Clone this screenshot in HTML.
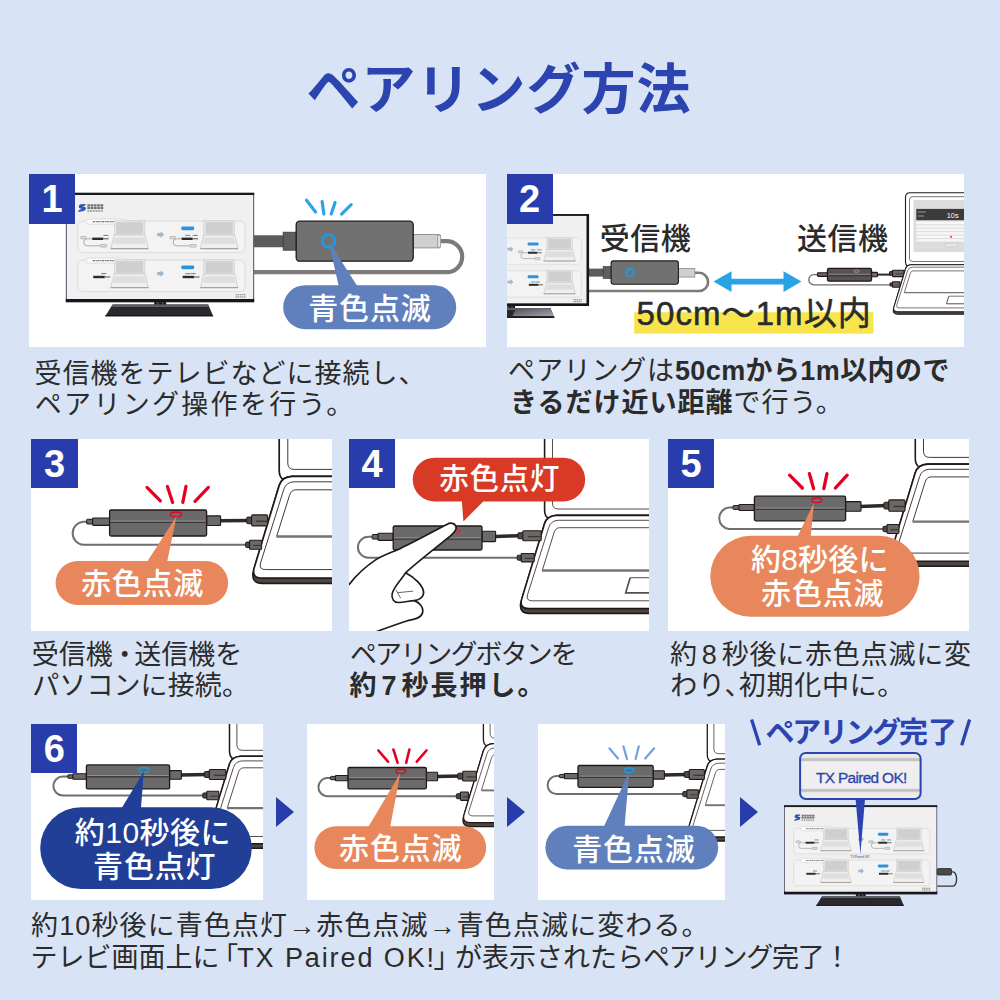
<!DOCTYPE html>
<html lang="ja">
<head>
<meta charset="utf-8">
<title>ペアリング方法</title>
<style>
html,body{margin:0;padding:0}
body{width:1000px;height:1000px;position:relative;overflow:hidden;background:#d8e3f5;font-family:"Liberation Sans","Noto Sans CJK JP",sans-serif;color:#333}
svg{display:block}
svg text{font-family:"Liberation Sans","Noto Sans CJK JP",sans-serif}
.panel{position:absolute;background:#fff;overflow:hidden}
.panel>svg{position:absolute;left:0;top:0}
.badge{position:absolute;left:0;top:0;width:46.3px;height:49.8px;background:#283cab;color:#fff;font-weight:bold;font-size:38px;line-height:50px;text-align:center}
.cap{position:absolute;margin:0;padding:0;font-size:27px;font-weight:normal}
.cap>svg{position:absolute;left:0;top:0}
.sr{position:absolute;width:1px;height:1px;margin:-1px;overflow:hidden;clip:rect(0 0 0 0);white-space:nowrap;border:0;padding:0}
.arr{position:absolute;width:0;height:0;border-top:15px solid transparent;border-bottom:15px solid transparent;border-left:18px solid #283cab}
.fin{position:absolute}
.fin>svg{position:absolute;left:0;top:0}
.ok{position:absolute;left:86px;top:69.2px;font-size:15.4px;line-height:18px;color:#2b44b0;letter-spacing:-.66px;white-space:nowrap;-webkit-text-stroke:.3px #2b44b0}
.ok2{position:absolute;left:119px;top:155px;width:22px;text-align:center;font-size:3px;line-height:4px;color:#2b44b0;white-space:nowrap}
</style>
</head>
<body>
<h1 class="cap" style="left:290px;top:50px;width:420px;height:80px"><span class="sr">ペアリング方法</span><svg width="420" height="80" viewBox="290 50 420 80" aria-hidden="true"><text x="306.5" y="109" font-size="54" font-weight="bold" letter-spacing="1" fill="#2b44b0">ペアリング方法</text></svg></h1>
<div class="panel" style="left:28.8px;top:173.8px;width:457.7px;height:172.8px"><svg width="457.7" height="172.8" viewBox="28.8 173.8 457.7 172.8" role="img" aria-label="受信機をテレビに接続、青色点滅"><path d="M252 241H284" stroke="#5c5c5c" stroke-width="12"/><path d="M440 241H446.5A15.5 15.5 0 0 1 446.5 272H252" fill="none" stroke="#7b7b7b" stroke-width="4.2"/><g transform="translate(65.6 192.6) scale(1)"><path d="M88.4 108h12v9.5h-12z" fill="#1b1b1e"/><path d="M91 109.5h2v7h-2zM96 109.5h1.5v7h-1.5z" fill="#55555c"/><path d="M46.8 111.8h95.6l5 11.6h-108z" fill="#29292d"/><path d="M46.8 111.8h95.6l1 2.3h-97.6z" fill="#5d5d64"/><path d="M39.4 123h108" stroke="#0a0a0a" stroke-width="1"/><rect x="0" y="0" width="188.4" height="109.4" fill="#5d5b6e"/><rect x="0" y="0" width="188.4" height="2.4" fill="#1a1a20"/><rect x="0" y="106" width="188.4" height="3.4" fill="#15151a"/><rect x="1.1" y="2.2" width="186.2" height="104" fill="#f0f0f0"/><path d="M13.2 13.1q0-1.6 2-1.7l4.8-.2q-.2 1.9-2 2.1l-1.8.2q2.6.5 3.6 1.2q.6.5.2 1.6q-.5 1.6-2.4 1.9l-5.2 1q.2-2 1.9-2.4l2.3-.5q-2.6-.6-3.3-1.3q-.5-.6-.1-1.9z" fill="#2a56b4"/><path d="M21.6 11.5h15.8v4.8h-15.8z" fill="#6d6d6d"/><path d="M24.6 11.5v4.8M27.8 11.5v4.8M31 11.5v4.8M34.4 11.5v4.8" stroke="#eee" stroke-width=".7"/><path d="M21.6 13.8h15.8" stroke="#eee" stroke-width=".5"/><path d="M21.6 18.2h15.8" stroke="#8a8a8a" stroke-width="1.3" stroke-dasharray="1.8 .9"/><rect x="12" y="28.4" width="167.4" height="31.4" rx="5" fill="#f3f3f3" stroke="#d2d2d2" stroke-width=".7"/><rect x="20.4" y="26.2" width="40" height="5.2" rx="2.6" fill="#fbfbfb" stroke="#cfcfcf" stroke-width=".6"/><path d="M27 28.8h27" stroke="#777" stroke-width="1.2" stroke-dasharray="2.2 .7 1.2 .5"/><rect x="48.4" y="27.8" width="30.8" height="14.6" fill="#e3e3e3" stroke="#c9c3c1" stroke-width=".4"/><rect x="50.4" y="29.4" width="26.8" height="11.6" fill="#cfcfcf"/><path d="M48.4 42.2h30.8l3.4 13.6h-37.6z" fill="#efefef" stroke="#b9aca6" stroke-width=".5" stroke-linejoin="round"/><path d="M49.2 44.6h29.2l1.700 6.4h-32.6z" fill="#dedede"/><path d="M45 55.9h37.6" stroke="#9c8e86" stroke-width=".9"/><rect x="138" y="27.8" width="30.8" height="14.6" fill="#e3e3e3" stroke="#c9c3c1" stroke-width=".4"/><rect x="140" y="29.4" width="26.8" height="11.6" fill="#cfcfcf"/><path d="M138 42.2h30.8l3.4 13.6h-37.6z" fill="#efefef" stroke="#b9aca6" stroke-width=".5" stroke-linejoin="round"/><path d="M138.8 44.6h29.2l1.700 6.4h-32.6z" fill="#dedede"/><path d="M134.6 55.9h37.6" stroke="#9c8e86" stroke-width=".9"/><path d="M91.4 40.2h3.4v-1.8l3.6 3.4l-3.6 3.4v-1.8h-3.4z" fill="#9fb7ce"/><rect x="115.4" y="33.7" width="13" height="3.7" rx="1.4" fill="#2e93d9"/><rect x="26.4" y="44.8" width="11" height="2.4" fill="#2b2b2b"/><path d="M26.4 46h-5a3.5 3.5 0 0 0 0 7h13" fill="none" stroke="#8d8d8d" stroke-width=".7"/><rect x="34.5" y="51.7" width="6.5" height="2.6" rx=".8" fill="#ddd" stroke="#8a8a8a" stroke-width=".5"/><rect x="14.8" y="43.6" width="5.5" height="2.4" rx=".8" fill="#ddd" stroke="#8a8a8a" stroke-width=".5"/><path d="M37.4 46h5.5" stroke="#444" stroke-width=".9"/><path d="M37.5 42.6h5" stroke="#555" stroke-width=".8"/><rect x="115.8" y="44.8" width="11" height="2.4" fill="#2b2b2b"/><path d="M115.8 46h-5a3.5 3.5 0 0 0 0 7h13" fill="none" stroke="#8d8d8d" stroke-width=".7"/><rect x="123.9" y="51.7" width="6.5" height="2.6" rx=".8" fill="#ddd" stroke="#8a8a8a" stroke-width=".5"/><rect x="104.2" y="43.6" width="5.5" height="2.4" rx=".8" fill="#ddd" stroke="#8a8a8a" stroke-width=".5"/><path d="M126.8 46h5.5" stroke="#444" stroke-width=".9"/><path d="M126.9 42.6h5" stroke="#555" stroke-width=".8"/><rect x="119.4" y="42" width="5" height="1.2" fill="#47a2df"/><rect x="12" y="67.4" width="167.4" height="31.4" rx="5" fill="#f3f3f3" stroke="#d2d2d2" stroke-width=".7"/><rect x="20.4" y="65.2" width="40" height="5.2" rx="2.6" fill="#fbfbfb" stroke="#cfcfcf" stroke-width=".6"/><path d="M27 67.8h27" stroke="#777" stroke-width="1.2" stroke-dasharray="2.2 .7 1.2 .5"/><rect x="48.4" y="66.8" width="30.8" height="14.6" fill="#e3e3e3" stroke="#c9c3c1" stroke-width=".4"/><rect x="50.4" y="68.4" width="26.8" height="11.6" fill="#cfcfcf"/><path d="M48.4 81.2h30.8l3.4 13.6h-37.6z" fill="#efefef" stroke="#b9aca6" stroke-width=".5" stroke-linejoin="round"/><path d="M49.2 83.6h29.2l1.700 6.4h-32.6z" fill="#dedede"/><path d="M45 94.9h37.6" stroke="#9c8e86" stroke-width=".9"/><rect x="138" y="66.8" width="30.8" height="14.6" fill="#e3e3e3" stroke="#c9c3c1" stroke-width=".4"/><rect x="140" y="68.4" width="26.8" height="11.6" fill="#cfcfcf"/><path d="M138 81.2h30.8l3.4 13.6h-37.6z" fill="#efefef" stroke="#b9aca6" stroke-width=".5" stroke-linejoin="round"/><path d="M138.8 83.6h29.2l1.700 6.4h-32.6z" fill="#dedede"/><path d="M134.6 94.9h37.6" stroke="#9c8e86" stroke-width=".9"/><path d="M91.4 79.2h3.4v-1.8l3.6 3.4l-3.6 3.4v-1.8h-3.4z" fill="#9fb7ce"/><rect x="115.4" y="72.7" width="13" height="3.7" rx="1.4" fill="#2e93d9"/><rect x="27.4" y="83" width="11.5" height="2.4" fill="#2b2b2b"/><path d="M38.9 84.2h5.5" stroke="#444" stroke-width=".9"/><path d="M35.5 80.8h5" stroke="#555" stroke-width=".8"/><rect x="116.8" y="83" width="11.5" height="2.4" fill="#2b2b2b"/><path d="M128.3 84.2h5.5" stroke="#444" stroke-width=".9"/><path d="M124.9 80.8h5" stroke="#555" stroke-width=".8"/><rect x="119.4" y="80.2" width="5" height="1.2" fill="#47a2df"/><path d="M169.8 102h10.5M169.8 104.2h10.5" stroke="#777" stroke-width="1.1" stroke-dasharray="1.5 .6"/></g><rect x="283" y="232" width="14" height="18" fill="#5f5f5f" stroke="#3a3a3a" stroke-width=".8"/><rect x="413" y="234.3" width="26" height="13.4" fill="#cfcfcf" stroke="#8a8a8a" stroke-width=".9"/><rect x="437.5" y="235" width="3" height="12" fill="#e4e4e4" stroke="#8a8a8a" stroke-width=".7"/><rect x="296" y="221" width="117" height="40" rx="3.5" fill="#727171" stroke="#231815" stroke-width="1.3"/><rect x="283" y="285" width="173" height="44" rx="22" fill="#5f80bd"/><path fill="#5f80bd" d="M328.4 241L339 288L358.5 288z"/><circle cx="328.4" cy="240.6" r="6.2" fill="#727171" stroke="#1b9be3" stroke-width="2.8"/><path fill="none" stroke="#2ea3e6" stroke-width="3.2" stroke-linecap="round" d="M306.3 200.1L315.4 211.8M321.9 201.4L323.7 213.9M334.9 202.2L331 213.9M351 204.5L341.4 213.9"/><text x="369.7" y="318.5" text-anchor="middle" font-size="30" font-weight="500" letter-spacing=".8" fill="#fff">青色点滅</text></svg><div class="badge">1</div></div>
<p class="cap" style="left:30px;top:352px;width:460px;height:72px"><span class="sr">受信機をテレビなどに接続し、ペアリング操作を行う。</span><svg width="460" height="72" viewBox="30 352 460 72" aria-hidden="true"><text x="34.5" y="382.6" font-size="27" letter-spacing="1" fill="#2b2b2b">受信機をテレビなどに接続し、</text><text x="34.8" y="413.6" font-size="27" letter-spacing="2.3" fill="#2b2b2b">ペアリング操作を行う。</text></svg></p>
<div class="panel" style="left:506.5px;top:173.8px;width:457.5px;height:172.8px"><svg width="457.5" height="172.8" viewBox="506.5 173.8 457.5 172.8" role="img" aria-label="受信機と送信機は50cm〜1m以内"><path d="M588 272.4H604" stroke="#5c5c5c" stroke-width="8"/><path d="M694 272.6H698.5A9.1 9.1 0 0 1 698.5 290.8H588" fill="none" stroke="#7b7b7b" stroke-width="2.6"/><g transform="translate(430.2 213.9) scale(0.84)"><path d="M88.4 108h12v9.5h-12z" fill="#1b1b1e"/><path d="M91 109.5h2v7h-2zM96 109.5h1.5v7h-1.5z" fill="#55555c"/><path d="M46.8 111.8h95.6l5 11.6h-108z" fill="#29292d"/><path d="M46.8 111.8h95.6l1 2.3h-97.6z" fill="#5d5d64"/><path d="M39.4 123h108" stroke="#0a0a0a" stroke-width="1"/><rect x="0" y="0" width="188.4" height="109.4" fill="#5d5b6e"/><rect x="0" y="0" width="188.4" height="2.4" fill="#1a1a20"/><rect x="0" y="106" width="188.4" height="3.4" fill="#15151a"/><rect x="1.1" y="2.2" width="186.2" height="104" fill="#f0f0f0"/><path d="M13.2 13.1q0-1.6 2-1.7l4.8-.2q-.2 1.9-2 2.1l-1.8.2q2.6.5 3.6 1.2q.6.5.2 1.6q-.5 1.6-2.4 1.9l-5.2 1q.2-2 1.9-2.4l2.3-.5q-2.6-.6-3.3-1.3q-.5-.6-.1-1.9z" fill="#2a56b4"/><path d="M21.6 11.5h15.8v4.8h-15.8z" fill="#6d6d6d"/><path d="M24.6 11.5v4.8M27.8 11.5v4.8M31 11.5v4.8M34.4 11.5v4.8" stroke="#eee" stroke-width=".7"/><path d="M21.6 13.8h15.8" stroke="#eee" stroke-width=".5"/><path d="M21.6 18.2h15.8" stroke="#8a8a8a" stroke-width="1.3" stroke-dasharray="1.8 .9"/><rect x="12" y="28.4" width="167.4" height="31.4" rx="5" fill="#f3f3f3" stroke="#d2d2d2" stroke-width=".7"/><rect x="20.4" y="26.2" width="40" height="5.2" rx="2.6" fill="#fbfbfb" stroke="#cfcfcf" stroke-width=".6"/><path d="M27 28.8h27" stroke="#777" stroke-width="1.2" stroke-dasharray="2.2 .7 1.2 .5"/><rect x="48.4" y="27.8" width="30.8" height="14.6" fill="#e3e3e3" stroke="#c9c3c1" stroke-width=".4"/><rect x="50.4" y="29.4" width="26.8" height="11.6" fill="#cfcfcf"/><path d="M48.4 42.2h30.8l3.4 13.6h-37.6z" fill="#efefef" stroke="#b9aca6" stroke-width=".5" stroke-linejoin="round"/><path d="M49.2 44.6h29.2l1.700 6.4h-32.6z" fill="#dedede"/><path d="M45 55.9h37.6" stroke="#9c8e86" stroke-width=".9"/><rect x="138" y="27.8" width="30.8" height="14.6" fill="#e3e3e3" stroke="#c9c3c1" stroke-width=".4"/><rect x="140" y="29.4" width="26.8" height="11.6" fill="#cfcfcf"/><path d="M138 42.2h30.8l3.4 13.6h-37.6z" fill="#efefef" stroke="#b9aca6" stroke-width=".5" stroke-linejoin="round"/><path d="M138.8 44.6h29.2l1.700 6.4h-32.6z" fill="#dedede"/><path d="M134.6 55.9h37.6" stroke="#9c8e86" stroke-width=".9"/><path d="M91.4 40.2h3.4v-1.8l3.6 3.4l-3.6 3.4v-1.8h-3.4z" fill="#9fb7ce"/><rect x="115.4" y="33.7" width="13" height="3.7" rx="1.4" fill="#2e93d9"/><rect x="26.4" y="44.8" width="11" height="2.4" fill="#2b2b2b"/><path d="M26.4 46h-5a3.5 3.5 0 0 0 0 7h13" fill="none" stroke="#8d8d8d" stroke-width=".7"/><rect x="34.5" y="51.7" width="6.5" height="2.6" rx=".8" fill="#ddd" stroke="#8a8a8a" stroke-width=".5"/><rect x="14.8" y="43.6" width="5.5" height="2.4" rx=".8" fill="#ddd" stroke="#8a8a8a" stroke-width=".5"/><path d="M37.4 46h5.5" stroke="#444" stroke-width=".9"/><path d="M37.5 42.6h5" stroke="#555" stroke-width=".8"/><rect x="115.8" y="44.8" width="11" height="2.4" fill="#2b2b2b"/><path d="M115.8 46h-5a3.5 3.5 0 0 0 0 7h13" fill="none" stroke="#8d8d8d" stroke-width=".7"/><rect x="123.9" y="51.7" width="6.5" height="2.6" rx=".8" fill="#ddd" stroke="#8a8a8a" stroke-width=".5"/><rect x="104.2" y="43.6" width="5.5" height="2.4" rx=".8" fill="#ddd" stroke="#8a8a8a" stroke-width=".5"/><path d="M126.8 46h5.5" stroke="#444" stroke-width=".9"/><path d="M126.9 42.6h5" stroke="#555" stroke-width=".8"/><rect x="119.4" y="42" width="5" height="1.2" fill="#47a2df"/><rect x="12" y="67.4" width="167.4" height="31.4" rx="5" fill="#f3f3f3" stroke="#d2d2d2" stroke-width=".7"/><rect x="20.4" y="65.2" width="40" height="5.2" rx="2.6" fill="#fbfbfb" stroke="#cfcfcf" stroke-width=".6"/><path d="M27 67.8h27" stroke="#777" stroke-width="1.2" stroke-dasharray="2.2 .7 1.2 .5"/><rect x="48.4" y="66.8" width="30.8" height="14.6" fill="#e3e3e3" stroke="#c9c3c1" stroke-width=".4"/><rect x="50.4" y="68.4" width="26.8" height="11.6" fill="#cfcfcf"/><path d="M48.4 81.2h30.8l3.4 13.6h-37.6z" fill="#efefef" stroke="#b9aca6" stroke-width=".5" stroke-linejoin="round"/><path d="M49.2 83.6h29.2l1.700 6.4h-32.6z" fill="#dedede"/><path d="M45 94.9h37.6" stroke="#9c8e86" stroke-width=".9"/><rect x="138" y="66.8" width="30.8" height="14.6" fill="#e3e3e3" stroke="#c9c3c1" stroke-width=".4"/><rect x="140" y="68.4" width="26.8" height="11.6" fill="#cfcfcf"/><path d="M138 81.2h30.8l3.4 13.6h-37.6z" fill="#efefef" stroke="#b9aca6" stroke-width=".5" stroke-linejoin="round"/><path d="M138.8 83.6h29.2l1.700 6.4h-32.6z" fill="#dedede"/><path d="M134.6 94.9h37.6" stroke="#9c8e86" stroke-width=".9"/><path d="M91.4 79.2h3.4v-1.8l3.6 3.4l-3.6 3.4v-1.8h-3.4z" fill="#9fb7ce"/><rect x="115.4" y="72.7" width="13" height="3.7" rx="1.4" fill="#2e93d9"/><rect x="27.4" y="83" width="11.5" height="2.4" fill="#2b2b2b"/><path d="M38.9 84.2h5.5" stroke="#444" stroke-width=".9"/><path d="M35.5 80.8h5" stroke="#555" stroke-width=".8"/><rect x="116.8" y="83" width="11.5" height="2.4" fill="#2b2b2b"/><path d="M128.3 84.2h5.5" stroke="#444" stroke-width=".9"/><path d="M124.9 80.8h5" stroke="#555" stroke-width=".8"/><rect x="119.4" y="80.2" width="5" height="1.2" fill="#47a2df"/><path d="M169.8 102h10.5M169.8 104.2h10.5" stroke="#777" stroke-width="1.1" stroke-dasharray="1.5 .6"/></g><rect x="586" y="214" width="2.6" height="91.5" fill="#15151a"/><defs><linearGradient id="sg" x1="0" y1="0" x2="1" y2="1"><stop offset="0" stop-color="#4c4c54"/><stop offset="1" stop-color="#a5a5ad"/></linearGradient></defs><path d="M515.5 308.2H549.4L553.6 315.8H512z" fill="url(#sg)"/><rect x="602.7" y="266.4" width="8.5" height="11.8" fill="#5f5f5f" stroke="#3a3a3a" stroke-width=".7"/><rect x="678" y="268.3" width="16.3" height="8.6" fill="#cfcfcf" stroke="#8a8a8a" stroke-width=".8"/><rect x="610.6" y="260.7" width="67.3" height="23.4" rx="2.5" fill="#727171" stroke="#231815" stroke-width="1.1"/><circle cx="629.6" cy="272.4" r="3.9" fill="#727171" stroke="#1b9be3" stroke-width="1.9"/><path d="M713 281.4l18-10.4v7.5h52v-7.5l18 10.4l-18 10.4v-7.5h-52v7.5z" fill="#2aa3e4"/><rect x="633.7" y="312" width="239.3" height="21.5" fill="#f8e54e"/><text x="599.3" y="249" font-size="30" font-weight="500" letter-spacing=".5" fill="#2b2b2b">受信機</text><text x="796.5" y="249" font-size="30" font-weight="500" letter-spacing=".5" fill="#2b2b2b">送信機</text><text x="636" y="325.3" font-size="33" letter-spacing="1.1" fill="#2b2b2b" stroke="#2b2b2b" stroke-width=".55">50cm〜1m以内</text><path d="M817 274.4H813.4A5.1 5.1 0 0 0 813.4 284.6H893" fill="none" stroke="#6f6f6f" stroke-width="1.3"/><path d="M870 274.4H890" stroke="#2e2a29" stroke-width="2"/><rect x="817" y="272.6" width="10" height="3.6" rx=".8" fill="#6a6a6a" stroke="#231815" stroke-width="1.1"/><rect x="871" y="272.2" width="6" height="4.4" rx=".8" fill="#6a6a6a" stroke="#231815" stroke-width="1.1"/><rect x="889" y="271.3" width="4.5" height="3.8" rx=".8" fill="#4d4948" stroke="#231815" stroke-width="1"/><rect x="892" y="270.1" width="11.5" height="6.3" rx=".6" fill="#6b6867" stroke="#231815" stroke-width="1.1"/><path d="M895.2 273.7H903.5" stroke="#3b3736" stroke-width=".8"/><rect x="889.5" y="282.7" width="4" height="3.2" rx=".6" fill="#4d4948" stroke="#231815" stroke-width="1"/><rect x="892" y="281.6" width="7.5" height="5.4" rx=".5" fill="#6b6867" stroke="#231815" stroke-width="1.1"/><path d="M894.2 284.7H899.5" stroke="#3b3736" stroke-width=".8"/><rect x="827" y="268.2" width="44" height="12.8" rx="1.5" fill="#575352" stroke="#231815" stroke-width="1.3"/><path d="M828 275.2H870" stroke="#3a3635" stroke-width="1.6"/><path d="M828 274.1H870" stroke="#a9a9a9" stroke-width=".7"/><ellipse cx="856" cy="271" rx="2.6" ry="1.2" fill="none" stroke="#aaa" stroke-width=".7"/><path d="M970 192.5H909.6Q905 192.5 905 197.1V261.7C905 263.8 905.7 265.2 906.9 266" fill="#fff" stroke="#231815" stroke-width="1.1"/><path d="M970 196.5H911.9Q909 196.5 909 199.4V258.2Q909 261.3 911.9 261.3H970" fill="none" stroke="#3e3a39" stroke-width=".7"/><rect x="913" y="199.7" width="60" height="52.2" fill="#dcdcdc"/><rect x="915.8" y="208.7" width="60" height="11.3" fill="#3c3a3a"/><rect x="915.8" y="221.3" width="60" height="20.7" fill="#f7f7f7"/><path d="M915.8 224.6H970" stroke="#cfcfcf" stroke-width=".7"/><path d="M915.8 228H970" stroke="#cfcfcf" stroke-width=".7"/><path d="M915.8 231.5H970" stroke="#cfcfcf" stroke-width=".7"/><path d="M915.8 234.9H970" stroke="#cfcfcf" stroke-width=".7"/><path d="M915.8 238.4H970" stroke="#cfcfcf" stroke-width=".7"/><path d="M915.8 241.8H970" stroke="#cfcfcf" stroke-width=".7"/><path d="M917.5 211.8h8M917.5 215.8h6" stroke="#9a9a9a" stroke-width="1"/><text x="946.2" y="218.2" font-size="7.4" fill="#fff">10s</text><rect x="949.6" y="235.7" width="1.8" height="1.8" fill="#e0452c"/><rect x="944.6" y="243.4" width="12.4" height="3.1" rx=".6" fill="#e9e9e9" stroke="#bdbdbd" stroke-width=".5"/><path d="M911 264.5 H970 V314 H897.1 Q892.3 314 892.9 309.2 L905 268.7 Q906.3 264.7 911 264.5 z" fill="#4a4645" stroke="#231815" stroke-width="1.1" stroke-linejoin="round"/><path d="M911 264.5 H970 V311.6 H897.1 Q892.3 311.6 893.3 307.1 L905 268.7 Q906.3 264.7 911 264.5 z" fill="#fff" stroke="#231815" stroke-width="1.1" stroke-linejoin="round"/><path d="M970 267H911.9Q908.2 267.1 907.1 270.5L896.4 304.5Q895.5 307.7 898.7 307.7H970" fill="none" stroke="#3e3a39" stroke-width=".7"/><path d="M970 270.7H912.6Q910.6 270.7 909.8 273.3L903.9 292.1" fill="none" stroke="#3e3a39" stroke-width=".7"/><path d="M903.7 292.4H970" stroke="#767271" stroke-width="1.2"/><path d="M948.3 296L946 303.6H970" fill="none" stroke="#55504f" stroke-width="1"/><path d="M948.3 296H970" fill="none" stroke="#3e3a39" stroke-width=".7"/></svg><div class="badge">2</div></div>
<p class="cap" style="left:505px;top:352px;width:470px;height:72px"><span class="sr">ペアリングは50cmから1m以内のできるだけ近い距離で行う。</span><svg width="470" height="72" viewBox="505 352 470 72" aria-hidden="true"><text x="508.1" y="379.8" font-size="27" letter-spacing=".8" fill="#2b2b2b">ペアリングは<tspan font-weight="bold" letter-spacing=".4">50cmから1m以内ので</tspan></text><text x="510" y="411.8" font-size="27" letter-spacing="1" fill="#2b2b2b"><tspan font-weight="bold">きるだけ近い距離</tspan>で行う。</text></svg></p>
<div class="panel" style="left:31.4px;top:438.6px;width:300.6px;height:192.4px"><svg width="300.6" height="192.4" viewBox="31.4 438.6 300.6 192.4" role="img" aria-label="送信機をパソコンに接続、赤色点滅"><path d="M279.6 433.5V470C279.6 474.5 281.1 477.5 283.8 479.2" fill="#fff" stroke="#231815" stroke-width="1.7"/><path d="M288.2 433.5V462.5Q288.2 469 294.6 469H338" fill="none" stroke="#3e3a39" stroke-width="1"/><path d="M292.6 476 H338 V583 H262.6 Q252.1 583 253.4 572.5 L279.6 485 Q282.4 476.4 292.6 476 z" fill="#4a4645" stroke="#231815" stroke-width="1.7" stroke-linejoin="round"/><path d="M292.6 476 H338 V577.8 H262.6 Q252.1 577.8 254.4 568 L279.6 485 Q282.4 476.4 292.6 476 z" fill="#fff" stroke="#231815" stroke-width="1.7" stroke-linejoin="round"/><path d="M338 481.4H294.6Q286.6 481.6 284.2 489L261 562.5Q259 569.2 266.1 569.2H338" fill="none" stroke="#3e3a39" stroke-width="1"/><path d="M338 489.4H296.1Q291.6 489.4 289.9 495L277.2 535.6" fill="none" stroke="#3e3a39" stroke-width="1"/><path d="M276.7 536.2H338" stroke="#767271" stroke-width="2.5"/><path d="M373.1 544L368.1 560.5H338" fill="none" stroke="#55504f" stroke-width="1.9"/><path d="M373.1 544H338" fill="none" stroke="#3e3a39" stroke-width="1"/><path d="M87 521.3H83.6A11.6 11.6 0 0 0 83.6 544.4H248" fill="none" stroke="#6f6f6f" stroke-width="2.0"/><path d="M220 520.3L250 520" stroke="#2e2a29" stroke-width="3.5"/><rect x="87" y="518.9" width="7" height="4.7" rx=".8" fill="#6a6a6a" stroke="#231815" stroke-width="1"/><rect x="93" y="517.6" width="17" height="7.4" rx=".8" fill="#6a6a6a" stroke="#231815" stroke-width="1.1"/><rect x="207" y="515.5" width="14" height="9.6" rx=".8" fill="#6a6a6a" stroke="#231815" stroke-width="1.1"/><rect x="247" y="516.7" width="6.5" height="6.6" rx="1.3" fill="#4d4948" stroke="#231815" stroke-width="1"/><rect x="252" y="514.5" width="16" height="11" rx="1.1" fill="#6b6867" stroke="#231815" stroke-width="1.1"/><path d="M256.6 520.9H268" stroke="#3b3736" stroke-width="1.4"/><rect x="246" y="541.7" width="5.5" height="5.4" rx="1.1" fill="#4d4948" stroke="#231815" stroke-width="1"/><rect x="250" y="539.9" width="12" height="9" rx=".9" fill="#6b6867" stroke="#231815" stroke-width="1.1"/><path d="M253.5 545.1H262" stroke="#3b3736" stroke-width="1.2"/><rect x="110" y="509.6" width="97" height="26" rx="1.5" fill="#6a6a6a" stroke="#231815" stroke-width="1.3"/><path d="M111 521.8H206" stroke="#3a3635" stroke-width="1.6"/><path d="M111 520.7H206" stroke="#a9a9a9" stroke-width=".7"/><ellipse cx="176.4" cy="514" rx="5.8" ry="2.4" fill="none" stroke="#e60020" stroke-width="1.3"/><path fill="none" stroke="#e60020" stroke-width="3.2" stroke-linecap="round" d="M147.4 487L160.8 500.4M167.8 486L173 502M186.4 486L183.2 502M208.8 487L195.4 501"/><rect x="56" y="560.6" width="172.5" height="44" rx="22" fill="#e8875c"/><path fill="#e8875c" d="M177 515.5L146.4 563L167.2 563z"/><text x="142.9" y="593.2" text-anchor="middle" font-size="30" font-weight="500" letter-spacing=".8" fill="#fff">赤色点滅</text></svg><div class="badge">3</div></div>
<p class="cap" style="left:30px;top:636px;width:310px;height:72px"><span class="sr">受信機・送信機をパソコンに接続。</span><svg width="310" height="72" viewBox="30 636 310 72" aria-hidden="true"><text x="31.7" y="664.3" font-size="27" fill="#2b2b2b">受信機<tspan dx="-1.5">・</tspan><tspan dx="-4">送信機を</tspan></text><text x="32.2" y="694.8" font-size="27" letter-spacing=".1" fill="#2b2b2b">パソコンに接続。</text></svg></p>
<div class="panel" style="left:348.8px;top:438.6px;width:300.4px;height:192.4px"><svg width="300.4" height="192.4" viewBox="348.8 438.6 300.4 192.4" role="img" aria-label="ペアリングボタンを長押し、赤色点灯"><path d="M544.4 433.5V509.5C544.4 513.6 545.8 516.4 548.2 517.9" fill="#fff" stroke="#231815" stroke-width="1.6"/><path d="M552.3 433.5V502.6Q552.3 508.6 558.1 508.6H656" fill="none" stroke="#3e3a39" stroke-width=".9"/><path d="M556.3 515 H656 V613 H528.8 Q519.2 613 520.4 603.4 L544.4 523.2 Q547 515.4 556.3 515 z" fill="#4a4645" stroke="#231815" stroke-width="1.6" stroke-linejoin="round"/><path d="M556.3 515 H656 V608.2 H528.8 Q519.2 608.2 521.3 599.3 L544.4 523.2 Q547 515.4 556.3 515 z" fill="#fff" stroke="#231815" stroke-width="1.6" stroke-linejoin="round"/><path d="M656 519.9H558.1Q550.8 520.1 548.6 526.9L527.4 594.2Q525.5 600.4 532 600.4H656" fill="none" stroke="#3e3a39" stroke-width=".9"/><path d="M656 527.3H559.5Q555.4 527.3 553.8 532.4L542.2 569.6" fill="none" stroke="#3e3a39" stroke-width=".9"/><path d="M541.7 570.1H656" stroke="#767271" stroke-width="2.3"/><path d="M630 577.3L625.5 592.4H656" fill="none" stroke="#55504f" stroke-width="1.7"/><path d="M630 577.3H656" fill="none" stroke="#3e3a39" stroke-width=".9"/><path d="M372 536.4H368.2A10.4 10.4 0 0 0 368.2 557.3H519" fill="none" stroke="#6f6f6f" stroke-width="2.0"/><path d="M494.4 536L520.6 535.4" stroke="#2e2a29" stroke-width="3.5"/><rect x="372" y="534.1" width="6.8" height="4.6" rx=".8" fill="#6a6a6a" stroke="#231815" stroke-width="1"/><rect x="377.8" y="532.8" width="15.2" height="7.2" rx=".8" fill="#6a6a6a" stroke="#231815" stroke-width="1.1"/><rect x="481.8" y="530.9" width="13.6" height="10.3" rx=".8" fill="#6a6a6a" stroke="#231815" stroke-width="1.1"/><rect x="517.6" y="532.4" width="6.5" height="6" rx="1.2" fill="#4d4948" stroke="#231815" stroke-width="1"/><rect x="522.6" y="530.4" width="18.4" height="10" rx="1" fill="#6b6867" stroke="#231815" stroke-width="1.1"/><path d="M527.7 536.2H541" stroke="#3b3736" stroke-width="1.3"/><rect x="517" y="554.8" width="5.5" height="5" rx="1" fill="#4d4948" stroke="#231815" stroke-width="1"/><rect x="521" y="553.1" width="13" height="8.4" rx=".8" fill="#6b6867" stroke="#231815" stroke-width="1.1"/><path d="M524.7 558H534" stroke="#3b3736" stroke-width="1.1"/><rect x="393" y="525.6" width="88.8" height="24" rx="1.5" fill="#6a6a6a" stroke="#231815" stroke-width="1.3"/><path d="M394 538.6H480.8" stroke="#3a3635" stroke-width="1.6"/><path d="M394 537.5H480.8" stroke="#a9a9a9" stroke-width=".7"/><path d="M456.5 528.2l3.2 2.3l-3.2 2.5" fill="none" stroke="#e23" stroke-width="1.4"/><path d="M341.8 591.2L349 584C354.6 576.8 362.6 568 375.4 559.5C383.4 554.4 393 551.5 400.2 548C412.2 542.4 434.6 530.4 446.6 524C451.4 521.4 455.7 523.4 456 527.5C456 530.4 452.2 533.9 447.4 537.8C434.6 548 415.4 563.2 405.5 572.3C413.8 576.8 423.1 584.8 423.4 592C423.4 596.8 418.6 599.5 414.1 600.2C420.2 602.4 423.4 607.5 422.4 612C421.5 617.6 413.8 619.2 407.4 620.3C397.8 623.2 385 628 375.4 631.5L375.4 639.2L341.8 639.2Z" fill="#fff" stroke="#231815" stroke-width="1.7" stroke-linejoin="round"/><path d="M405.5 572.3C399.4 581.6 393 587.2 391.9 593.6C391.1 598.4 393.8 602.4 398.6 602.1C404.2 601.8 409 600.5 414.1 600.2" fill="none" stroke="#231815" stroke-width="1.6" stroke-linejoin="round"/><path d="M395.9 589.6L400.5 597.9M397.8 592.3L413 590.7" fill="none" stroke="#555" stroke-width=".9"/><rect x="412.5" y="457.3" width="172.5" height="43.8" rx="21.9" fill="#d83a26"/><path fill="#d83a26" d="M463.2 521.2L461.6 500L484 500z"/><text x="499.6" y="489" text-anchor="middle" font-size="29.5" font-weight="500" letter-spacing=".8" fill="#fff">赤色点灯</text></svg><div class="badge">4</div></div>
<p class="cap" style="left:347px;top:636px;width:310px;height:72px"><span class="sr">ペアリングボタンを約7秒長押し。</span><svg width="310" height="72" viewBox="347 636 310 72" aria-hidden="true"><text x="350" y="663.5" font-size="27" letter-spacing="-1.9" fill="#2b2b2b">ペアリングボタンを</text><text x="349.5" y="694.7" font-size="27" font-weight="bold" letter-spacing="2" fill="#2b2b2b">約<tspan dx="3">7</tspan><tspan dx="3">秒長押し。</tspan></text></svg></p>
<div class="panel" style="left:668px;top:438.6px;width:300.9px;height:192.4px"><svg width="300.9" height="192.4" viewBox="668 438.6 300.9 192.4" role="img" aria-label="約8秒後に赤色点滅"><path d="M915.3 433.5V458C915.3 462.3 916.7 465.1 919.3 466.8" fill="#fff" stroke="#231815" stroke-width="1.6"/><path d="M923.5 433.5V450.8Q923.5 457 929.6 457H976" fill="none" stroke="#3e3a39" stroke-width="1"/><path d="M927.7 463.7 H976 V565.9 H899.1 Q889 565.9 890.3 555.9 L915.3 472.3 Q918 464.1 927.7 463.7 z" fill="#4a4645" stroke="#231815" stroke-width="1.6" stroke-linejoin="round"/><path d="M927.7 463.7 H976 V560.9 H899.1 Q889 560.9 891.2 551.6 L915.3 472.3 Q918 464.1 927.7 463.7 z" fill="#fff" stroke="#231815" stroke-width="1.6" stroke-linejoin="round"/><path d="M976 468.9H929.6Q922 469 919.7 476.1L897.5 546.3Q895.6 552.7 902.4 552.7H976" fill="none" stroke="#3e3a39" stroke-width="1"/><path d="M976 476.5H931.1Q926.8 476.5 925.1 481.8L913 520.6" fill="none" stroke="#3e3a39" stroke-width="1"/><path d="M912.5 521.2H976" stroke="#767271" stroke-width="2.4"/><path d="M1004.6 528.6L999.8 544.4H976" fill="none" stroke="#55504f" stroke-width="1.8"/><path d="M1004.6 528.6H976" fill="none" stroke="#3e3a39" stroke-width="1"/><path d="M733 507.1H729A10.8 10.8 0 0 0 729 528.6H885" fill="none" stroke="#6f6f6f" stroke-width="2.0"/><path d="M860 506L886.8 505.2" stroke="#2e2a29" stroke-width="3.5"/><rect x="733" y="505.2" width="7" height="3.8" rx=".8" fill="#6a6a6a" stroke="#231815" stroke-width="1"/><rect x="739" y="504.1" width="15.4" height="6" rx=".8" fill="#6a6a6a" stroke="#231815" stroke-width="1.1"/><rect x="845.6" y="501.2" width="15.4" height="9.6" rx=".8" fill="#6a6a6a" stroke="#231815" stroke-width="1.1"/><rect x="883.8" y="501.8" width="6.5" height="6.8" rx="1.4" fill="#4d4948" stroke="#231815" stroke-width="1"/><rect x="888.8" y="499.5" width="16.2" height="11.4" rx="1.1" fill="#6b6867" stroke="#231815" stroke-width="1.1"/><path d="M893.5 506.1H905" stroke="#3b3736" stroke-width="1.5"/><rect x="883" y="525.9" width="5.5" height="5.4" rx="1.1" fill="#4d4948" stroke="#231815" stroke-width="1"/><rect x="887" y="524.1" width="12" height="9" rx=".9" fill="#6b6867" stroke="#231815" stroke-width="1.1"/><path d="M890.5 529.3H899" stroke="#3b3736" stroke-width="1.2"/><rect x="754.4" y="495.8" width="91.2" height="24.6" rx="1.5" fill="#6a6a6a" stroke="#231815" stroke-width="1.3"/><path d="M755.4 508.8H844.6" stroke="#3a3635" stroke-width="1.6"/><path d="M755.4 507.7H844.6" stroke="#a9a9a9" stroke-width=".7"/><ellipse cx="816.8" cy="499.8" rx="5" ry="2.4" fill="none" stroke="#e60020" stroke-width="1.3"/><path fill="none" stroke="#e60020" stroke-width="3.3" stroke-linecap="round" d="M789.6 474.8L802.4 487.6M809.4 473.2L813.6 488.2M827 473.2L823.8 488.2M847.2 474.8L835.4 487.6"/><rect x="710.3" y="535.4" width="209.3" height="81" rx="40.5" fill="#e8875c"/><path fill="#e8875c" d="M814 502.5L795.5 540L810.5 538z"/><text x="751" y="570" font-size="30" font-weight="500" letter-spacing=".2" fill="#fff">約8秒後に</text><text x="822.7" y="604" text-anchor="middle" font-size="30" font-weight="500" letter-spacing=".8" fill="#fff">赤色点滅</text></svg><div class="badge">5</div></div>
<p class="cap" style="left:666px;top:636px;width:320px;height:72px"><span class="sr">約8秒後に赤色点滅に変わり、初期化中に。</span><svg width="320" height="72" viewBox="666 636 320 72" aria-hidden="true"><text x="670" y="663.5" font-size="27" letter-spacing=".8" fill="#2b2b2b">約<tspan dx="4">8</tspan><tspan dx="4">秒後に赤色点滅に変</tspan></text><text x="670.3" y="694.7" font-size="27" letter-spacing=".7" fill="#2b2b2b">わり、<tspan dx="-13.5">初期化中に。</tspan></text></svg></p>
<div class="panel" style="left:31.2px;top:723.5px;width:231.4px;height:176.3px"><svg width="231.4" height="176.3" viewBox="31.2 723.5 231.4 176.3" role="img" aria-label="約10秒後に青色点灯"><path d="M229.7 718.4V750.6C229.7 754.5 231 757.1 233.3 758.6" fill="#fff" stroke="#231815" stroke-width="1.5"/><path d="M237.1 718.4V744.2Q237.1 749.8 242.6 749.8H269" fill="none" stroke="#3e3a39" stroke-width=".9"/><path d="M240.9 755.8 H269 V847.8 H215.1 Q206 847.8 207.2 838.8 L229.7 763.5 Q232.1 756.1 240.9 755.8 z" fill="#4a4645" stroke="#231815" stroke-width="1.5" stroke-linejoin="round"/><path d="M240.9 755.8 H269 V843.3 H215.1 Q206 843.3 208 834.9 L229.7 763.5 Q232.1 756.1 240.9 755.8 z" fill="#fff" stroke="#231815" stroke-width="1.5" stroke-linejoin="round"/><path d="M269 760.4H242.6Q235.7 760.6 233.7 767L213.7 830.2Q212 836 218.1 836H269" fill="none" stroke="#3e3a39" stroke-width=".9"/><path d="M269 767.3H243.9Q240 767.3 238.6 772.1L227.6 807.1" fill="none" stroke="#3e3a39" stroke-width=".9"/><path d="M227.2 807.6H269" stroke="#767271" stroke-width="2.1"/><path d="M310.1 814.3L305.8 828.5H269" fill="none" stroke="#55504f" stroke-width="1.6"/><path d="M310.1 814.3H269" fill="none" stroke="#3e3a39" stroke-width=".9"/><path d="M68 776H63.1A9.5 9.5 0 0 0 63.1 795H205" fill="none" stroke="#6f6f6f" stroke-width="2.0"/><path d="M180.6 774.4L207.5 774" stroke="#2e2a29" stroke-width="3.5"/><rect x="68" y="774.3" width="6" height="3.5" rx=".8" fill="#6a6a6a" stroke="#231815" stroke-width="1"/><rect x="73" y="773.3" width="13.6" height="5.4" rx=".8" fill="#6a6a6a" stroke="#231815" stroke-width="1.1"/><rect x="169.8" y="770.1" width="11.8" height="8.6" rx=".8" fill="#6a6a6a" stroke="#231815" stroke-width="1.1"/><rect x="204.5" y="771" width="6.5" height="6" rx="1.2" fill="#4d4948" stroke="#231815" stroke-width="1"/><rect x="209.5" y="769" width="16.5" height="10" rx="1" fill="#6b6867" stroke="#231815" stroke-width="1.1"/><path d="M214.2 774.8H226" stroke="#3b3736" stroke-width="1.3"/><rect x="203" y="792.5" width="5.5" height="5" rx="1" fill="#4d4948" stroke="#231815" stroke-width="1"/><rect x="207" y="790.8" width="12" height="8.4" rx=".8" fill="#6b6867" stroke="#231815" stroke-width="1.1"/><path d="M210.5 795.7H219" stroke="#3b3736" stroke-width="1.1"/><rect x="86.6" y="764.4" width="83.2" height="24" rx="1.5" fill="#6a6a6a" stroke="#231815" stroke-width="1.3"/><path d="M87.6 776.2H168.8" stroke="#3a3635" stroke-width="1.6"/><path d="M87.6 775.1H168.8" stroke="#a9a9a9" stroke-width=".7"/><ellipse cx="144.2" cy="769.5" rx="5.3" ry="2.4" fill="none" stroke="#1b9be3" stroke-width="1.3"/><rect x="40.4" y="806.7" width="211.6" height="81.8" rx="40.9" fill="#213f97"/><path fill="#213f97" d="M144 771L119.2 812L141 810z"/><text x="75" y="842.5" font-size="30" font-weight="500" letter-spacing=".5" fill="#fff">約10秒後に</text><text x="154.9" y="876.5" text-anchor="middle" font-size="30" font-weight="500" letter-spacing=".8" fill="#fff">青色点灯</text></svg><div class="badge">6</div></div>
<div class="panel" style="left:306.6px;top:723.5px;width:187.6px;height:176.3px"><svg width="187.6" height="176.3" viewBox="306.6 723.5 187.6 176.3" role="img" aria-label="赤色点滅"><path d="M483 718.4V738.6C483 742 484.2 744.4 486.3 745.7" fill="#fff" stroke="#231815" stroke-width="1.3"/><path d="M489.7 718.4V732.7Q489.7 737.8 494.6 737.8H501" fill="none" stroke="#3e3a39" stroke-width=".8"/><path d="M493.1 743.2 H501 V826.1 H469.8 Q461.7 826.1 462.7 818 L483 750.2 Q485.2 743.5 493.1 743.2 z" fill="#4a4645" stroke="#231815" stroke-width="1.3" stroke-linejoin="round"/><path d="M493.1 743.2 H501 V822.1 H469.8 Q461.7 822.1 463.5 814.5 L483 750.2 Q485.2 743.5 493.1 743.2 z" fill="#fff" stroke="#231815" stroke-width="1.3" stroke-linejoin="round"/><path d="M501 747.4H494.6Q488.4 747.5 486.6 753.3L468.6 810.2Q467 815.4 472.5 815.4H501" fill="none" stroke="#3e3a39" stroke-width=".8"/><path d="M501 753.6H495.8Q492.3 753.6 491 757.9L481.1 789.4" fill="none" stroke="#3e3a39" stroke-width=".8"/><path d="M480.8 789.9H501" stroke="#767271" stroke-width="1.9"/><path d="M555.5 795.9L551.6 808.7H501" fill="none" stroke="#55504f" stroke-width="1.5"/><path d="M555.5 795.9H501" fill="none" stroke="#3e3a39" stroke-width=".8"/><path d="M330 777.6H326.2A9.1 9.1 0 0 0 326.2 795.7H458" fill="none" stroke="#6f6f6f" stroke-width="2.0"/><path d="M436.2 776L460.3 775.6" stroke="#2e2a29" stroke-width="3.5"/><rect x="330" y="775.9" width="6" height="3.3" rx=".8" fill="#6a6a6a" stroke="#231815" stroke-width="1"/><rect x="335" y="775" width="12.6" height="5.2" rx=".8" fill="#6a6a6a" stroke="#231815" stroke-width="1.1"/><rect x="426" y="771.8" width="11.2" height="8.4" rx=".8" fill="#6a6a6a" stroke="#231815" stroke-width="1.1"/><rect x="457.3" y="772.7" width="6.5" height="5.9" rx="1.2" fill="#4d4948" stroke="#231815" stroke-width="1"/><rect x="462.3" y="770.7" width="13.7" height="9.8" rx="1" fill="#6b6867" stroke="#231815" stroke-width="1.1"/><path d="M466.4 776.4H476" stroke="#3b3736" stroke-width="1.3"/><rect x="456" y="793.2" width="5.5" height="5" rx="1" fill="#4d4948" stroke="#231815" stroke-width="1"/><rect x="460" y="791.5" width="8" height="8.4" rx=".8" fill="#6b6867" stroke="#231815" stroke-width="1.1"/><path d="M462.6 796.4H468" stroke="#3b3736" stroke-width="1.1"/><rect x="347.6" y="767" width="78.4" height="21.4" rx="1.5" fill="#6a6a6a" stroke="#231815" stroke-width="1.3"/><path d="M348.6 778.4H425" stroke="#3a3635" stroke-width="1.6"/><path d="M348.6 777.3H425" stroke="#a9a9a9" stroke-width=".7"/><ellipse cx="400.4" cy="770.8" rx="5" ry="2.3" fill="none" stroke="#e60020" stroke-width="1.3"/><path fill="none" stroke="#e60020" stroke-width="2.6" stroke-linecap="round" d="M378 750L387.6 761.2M393 749L397.2 762.2M409 749L405.8 762.2M426 750L416.4 761.2"/><rect x="314" y="825.8" width="171.8" height="42.6" rx="21.3" fill="#e8875c"/><path fill="#e8875c" d="M400 772.5L367 828L389.5 828z"/><text x="400.3" y="859" text-anchor="middle" font-size="30" font-weight="500" letter-spacing=".8" fill="#fff">赤色点滅</text></svg></div>
<div class="panel" style="left:537.6px;top:723.5px;width:187.2px;height:176.3px"><svg width="187.2" height="176.3" viewBox="537.6 723.5 187.2 176.3" role="img" aria-label="青色点滅"><path d="M706.9 718.4V754C706.9 757.5 708 759.7 710.1 761" fill="#fff" stroke="#231815" stroke-width="1.3"/><path d="M713.5 718.4V748.3Q713.5 753.2 718.4 753.2H731" fill="none" stroke="#3e3a39" stroke-width=".8"/><path d="M716.8 758.6 H731 V840.5 H693.9 Q685.9 840.5 686.9 832.4 L706.9 765.5 Q709 758.9 716.8 758.6 z" fill="#4a4645" stroke="#231815" stroke-width="1.3" stroke-linejoin="round"/><path d="M716.8 758.6 H731 V836.5 H693.9 Q685.9 836.5 687.6 829 L706.9 765.5 Q709 758.9 716.8 758.6 z" fill="#fff" stroke="#231815" stroke-width="1.3" stroke-linejoin="round"/><path d="M731 762.7H718.4Q712.3 762.9 710.4 768.5L692.7 824.8Q691.1 829.9 696.6 829.9H731" fill="none" stroke="#3e3a39" stroke-width=".8"/><path d="M731 768.9H719.5Q716.1 768.9 714.8 773.1L705.1 804.2" fill="none" stroke="#3e3a39" stroke-width=".8"/><path d="M704.7 804.7H731" stroke="#767271" stroke-width="1.9"/><path d="M778.4 810.6L774.6 823.2H731" fill="none" stroke="#55504f" stroke-width="1.5"/><path d="M778.4 810.6H731" fill="none" stroke="#3e3a39" stroke-width=".8"/><path d="M559 775.6H556.2A9 9 0 0 0 556.2 793.6H684.4" fill="none" stroke="#6f6f6f" stroke-width="2.0"/><path d="M663 774.4L686.8 774" stroke="#2e2a29" stroke-width="3.5"/><rect x="559" y="773.9" width="6" height="3.3" rx=".8" fill="#6a6a6a" stroke="#231815" stroke-width="1"/><rect x="564" y="773" width="13.6" height="5.2" rx=".8" fill="#6a6a6a" stroke="#231815" stroke-width="1.1"/><rect x="652.8" y="770.2" width="11.2" height="8.4" rx=".8" fill="#6a6a6a" stroke="#231815" stroke-width="1.1"/><rect x="683.8" y="771" width="6.5" height="5.9" rx="1.2" fill="#4d4948" stroke="#231815" stroke-width="1"/><rect x="688.8" y="769" width="15.2" height="9.9" rx="1" fill="#6b6867" stroke="#231815" stroke-width="1.1"/><path d="M693.2 774.8H704" stroke="#3b3736" stroke-width="1.3"/><rect x="682.4" y="791.1" width="5.5" height="5" rx="1" fill="#4d4948" stroke="#231815" stroke-width="1"/><rect x="686.4" y="789.4" width="11.6" height="8.4" rx=".8" fill="#6b6867" stroke="#231815" stroke-width="1.1"/><path d="M689.8 794.3H698" stroke="#3b3736" stroke-width="1.1"/><rect x="577.6" y="765" width="75.2" height="21.8" rx="1.5" fill="#6a6a6a" stroke="#231815" stroke-width="1.3"/><path d="M578.6 776.8H651.8" stroke="#3a3635" stroke-width="1.6"/><path d="M578.6 775.7H651.8" stroke="#a9a9a9" stroke-width=".7"/><ellipse cx="628.8" cy="769.8" rx="5" ry="2.3" fill="none" stroke="#1b9be3" stroke-width="1.3"/><path fill="none" stroke="#6fa3dc" stroke-width="2.2" stroke-linecap="round" d="M609 747.8L617.6 758M623 745.8L626.6 758.6M638.4 745.8L635.2 758.6M653.8 747.8L644.8 758"/><rect x="545" y="825.2" width="172.8" height="43.8" rx="21.9" fill="#5f80bd"/><path fill="#5f80bd" d="M628.8 771.5L602.6 828L624 828z"/><text x="633.5" y="859.1" text-anchor="middle" font-size="30" font-weight="500" letter-spacing=".8" fill="#fff">青色点滅</text></svg></div>
<div class="arr" style="left:275.8px;top:797.2px"></div>
<div class="arr" style="left:507px;top:797.2px"></div>
<div class="arr" style="left:740.2px;top:797.2px"></div>
<div class="fin" style="left:730px;top:700px;width:270px;height:215px"><svg width="270" height="215" viewBox="730 700 270 215" role="img" aria-label="テレビ画面にTX Paired OK!と表示"><g transform="translate(784 805.3) scale(0.8133)"><path d="M88.4 108h12v9.5h-12z" fill="#1b1b1e"/><path d="M91 109.5h2v7h-2zM96 109.5h1.5v7h-1.5z" fill="#55555c"/><path d="M46.8 111.8h95.6l5 11.6h-108z" fill="#29292d"/><path d="M46.8 111.8h95.6l1 2.3h-97.6z" fill="#5d5d64"/><path d="M39.4 123h108" stroke="#0a0a0a" stroke-width="1"/><rect x="0" y="0" width="188.4" height="109.4" fill="#5d5b6e"/><rect x="0" y="0" width="188.4" height="2.4" fill="#1a1a20"/><rect x="0" y="106" width="188.4" height="3.4" fill="#15151a"/><rect x="1.1" y="2.2" width="186.2" height="104" fill="#f0f0f0"/><path d="M13.2 13.1q0-1.6 2-1.7l4.8-.2q-.2 1.9-2 2.1l-1.8.2q2.6.5 3.6 1.2q.6.5.2 1.6q-.5 1.6-2.4 1.9l-5.2 1q.2-2 1.9-2.4l2.3-.5q-2.6-.6-3.3-1.3q-.5-.6-.1-1.9z" fill="#2a56b4"/><path d="M21.6 11.5h15.8v4.8h-15.8z" fill="#6d6d6d"/><path d="M24.6 11.5v4.8M27.8 11.5v4.8M31 11.5v4.8M34.4 11.5v4.8" stroke="#eee" stroke-width=".7"/><path d="M21.6 13.8h15.8" stroke="#eee" stroke-width=".5"/><path d="M21.6 18.2h15.8" stroke="#8a8a8a" stroke-width="1.3" stroke-dasharray="1.8 .9"/><rect x="12" y="28.4" width="167.4" height="31.4" rx="5" fill="#f3f3f3" stroke="#d2d2d2" stroke-width=".7"/><rect x="20.4" y="26.2" width="40" height="5.2" rx="2.6" fill="#fbfbfb" stroke="#cfcfcf" stroke-width=".6"/><path d="M27 28.8h27" stroke="#777" stroke-width="1.2" stroke-dasharray="2.2 .7 1.2 .5"/><rect x="48.4" y="27.8" width="30.8" height="14.6" fill="#e3e3e3" stroke="#c9c3c1" stroke-width=".4"/><rect x="50.4" y="29.4" width="26.8" height="11.6" fill="#cfcfcf"/><path d="M48.4 42.2h30.8l3.4 13.6h-37.6z" fill="#efefef" stroke="#b9aca6" stroke-width=".5" stroke-linejoin="round"/><path d="M49.2 44.6h29.2l1.700 6.4h-32.6z" fill="#dedede"/><path d="M45 55.9h37.6" stroke="#9c8e86" stroke-width=".9"/><rect x="138" y="27.8" width="30.8" height="14.6" fill="#e3e3e3" stroke="#c9c3c1" stroke-width=".4"/><rect x="140" y="29.4" width="26.8" height="11.6" fill="#cfcfcf"/><path d="M138 42.2h30.8l3.4 13.6h-37.6z" fill="#efefef" stroke="#b9aca6" stroke-width=".5" stroke-linejoin="round"/><path d="M138.8 44.6h29.2l1.700 6.4h-32.6z" fill="#dedede"/><path d="M134.6 55.9h37.6" stroke="#9c8e86" stroke-width=".9"/><path d="M91.4 40.2h3.4v-1.8l3.6 3.4l-3.6 3.4v-1.8h-3.4z" fill="#9fb7ce"/><rect x="115.4" y="33.7" width="13" height="3.7" rx="1.4" fill="#2e93d9"/><rect x="26.4" y="44.8" width="11" height="2.4" fill="#2b2b2b"/><path d="M26.4 46h-5a3.5 3.5 0 0 0 0 7h13" fill="none" stroke="#8d8d8d" stroke-width=".7"/><rect x="34.5" y="51.7" width="6.5" height="2.6" rx=".8" fill="#ddd" stroke="#8a8a8a" stroke-width=".5"/><rect x="14.8" y="43.6" width="5.5" height="2.4" rx=".8" fill="#ddd" stroke="#8a8a8a" stroke-width=".5"/><path d="M37.4 46h5.5" stroke="#444" stroke-width=".9"/><path d="M37.5 42.6h5" stroke="#555" stroke-width=".8"/><rect x="115.8" y="44.8" width="11" height="2.4" fill="#2b2b2b"/><path d="M115.8 46h-5a3.5 3.5 0 0 0 0 7h13" fill="none" stroke="#8d8d8d" stroke-width=".7"/><rect x="123.9" y="51.7" width="6.5" height="2.6" rx=".8" fill="#ddd" stroke="#8a8a8a" stroke-width=".5"/><rect x="104.2" y="43.6" width="5.5" height="2.4" rx=".8" fill="#ddd" stroke="#8a8a8a" stroke-width=".5"/><path d="M126.8 46h5.5" stroke="#444" stroke-width=".9"/><path d="M126.9 42.6h5" stroke="#555" stroke-width=".8"/><rect x="119.4" y="42" width="5" height="1.2" fill="#47a2df"/><rect x="12" y="67.4" width="167.4" height="31.4" rx="5" fill="#f3f3f3" stroke="#d2d2d2" stroke-width=".7"/><rect x="20.4" y="65.2" width="40" height="5.2" rx="2.6" fill="#fbfbfb" stroke="#cfcfcf" stroke-width=".6"/><path d="M27 67.8h27" stroke="#777" stroke-width="1.2" stroke-dasharray="2.2 .7 1.2 .5"/><rect x="48.4" y="66.8" width="30.8" height="14.6" fill="#e3e3e3" stroke="#c9c3c1" stroke-width=".4"/><rect x="50.4" y="68.4" width="26.8" height="11.6" fill="#cfcfcf"/><path d="M48.4 81.2h30.8l3.4 13.6h-37.6z" fill="#efefef" stroke="#b9aca6" stroke-width=".5" stroke-linejoin="round"/><path d="M49.2 83.6h29.2l1.700 6.4h-32.6z" fill="#dedede"/><path d="M45 94.9h37.6" stroke="#9c8e86" stroke-width=".9"/><rect x="138" y="66.8" width="30.8" height="14.6" fill="#e3e3e3" stroke="#c9c3c1" stroke-width=".4"/><rect x="140" y="68.4" width="26.8" height="11.6" fill="#cfcfcf"/><path d="M138 81.2h30.8l3.4 13.6h-37.6z" fill="#efefef" stroke="#b9aca6" stroke-width=".5" stroke-linejoin="round"/><path d="M138.8 83.6h29.2l1.700 6.4h-32.6z" fill="#dedede"/><path d="M134.6 94.9h37.6" stroke="#9c8e86" stroke-width=".9"/><path d="M91.4 79.2h3.4v-1.8l3.6 3.4l-3.6 3.4v-1.8h-3.4z" fill="#9fb7ce"/><rect x="115.4" y="72.7" width="13" height="3.7" rx="1.4" fill="#2e93d9"/><rect x="27.4" y="83" width="11.5" height="2.4" fill="#2b2b2b"/><path d="M38.9 84.2h5.5" stroke="#444" stroke-width=".9"/><path d="M35.5 80.8h5" stroke="#555" stroke-width=".8"/><rect x="116.8" y="83" width="11.5" height="2.4" fill="#2b2b2b"/><path d="M128.3 84.2h5.5" stroke="#444" stroke-width=".9"/><path d="M124.9 80.8h5" stroke="#555" stroke-width=".8"/><rect x="119.4" y="80.2" width="5" height="1.2" fill="#47a2df"/><path d="M169.8 102h10.5M169.8 104.2h10.5" stroke="#777" stroke-width="1.1" stroke-dasharray="1.5 .6"/></g><rect x="937.3" y="868.6" width="14.2" height="6.4" rx="1" fill="#4a4a4a" stroke="#222" stroke-width=".8"/><path d="M951.5 871.8H953A3.6 7.2 0 0 1 953 886.2H937.3" fill="none" stroke="#333" stroke-width="1.3"/><rect x="849" y="855.3" width="22" height="3" fill="#ededed"/><defs><linearGradient id="cg" x1="0" y1="0" x2="0" y2="1"><stop offset="0" stop-color="#efefef"/><stop offset=".1" stop-color="#e6e6e6"/><stop offset=".125" stop-color="#c2c2c2"/><stop offset=".165" stop-color="#c2c2c2"/><stop offset=".19" stop-color="#efefef"/><stop offset=".77" stop-color="#eee"/><stop offset=".795" stop-color="#c2c2c2"/><stop offset=".835" stop-color="#c2c2c2"/><stop offset=".86" stop-color="#e8e8e8"/><stop offset="1" stop-color="#efefef"/></linearGradient></defs><path d="M860.4 854L855.6 799H865z" fill="#2b44b0"/><rect x="800.1" y="753" width="120.5" height="45.9" rx="5.6" fill="url(#cg)" stroke="#2b44b0" stroke-width="2"/></svg><div class="ok">TX Paired OK!</div><div class="ok2">TX Paired OK!</div></div>
<h2 class="cap" style="left:740px;top:708px;width:245px;height:46px"><span class="sr">＼ペアリング完了／</span><svg width="245" height="46" viewBox="740 708 245 46" aria-hidden="true"><text x="765.5" y="743" font-size="29" font-weight="bold" fill="#2b44b0"><tspan letter-spacing="-2.3">ペアリング</tspan>完了</text><path d="M751.6 719.5L759.7 745.3M969.6 719.5L961.7 745.3" stroke="#2b44b0" stroke-width="3.3" fill="none"/></svg></h2>
<p class="cap" style="left:25px;top:905px;width:950px;height:80px"><span class="sr">約10秒後に青色点灯→赤色点滅→青色点滅に変わる。テレビ画面上に「TX Paired OK!」が表示されたらペアリング完了！</span><svg width="950" height="80" viewBox="25 905 950 80" aria-hidden="true"><text x="31.1" y="935.3" font-size="27" letter-spacing="1.1" fill="#2b2b2b">約10秒後に青色点灯→赤色点滅→青色点滅に変わる。</text><text x="30.6" y="967.2" font-size="27" fill="#2b2b2b">テレビ画面上に<tspan dx="-8.4">「</tspan><tspan dx="-1" letter-spacing="1.9">TX Paired OK!</tspan><tspan dx="-2.5">」</tspan><tspan dx="-5.4">が表示されたら</tspan><tspan dx="-1" letter-spacing="-1.2">ペアリング完了！</tspan></text></svg></p>
</body>
</html>
